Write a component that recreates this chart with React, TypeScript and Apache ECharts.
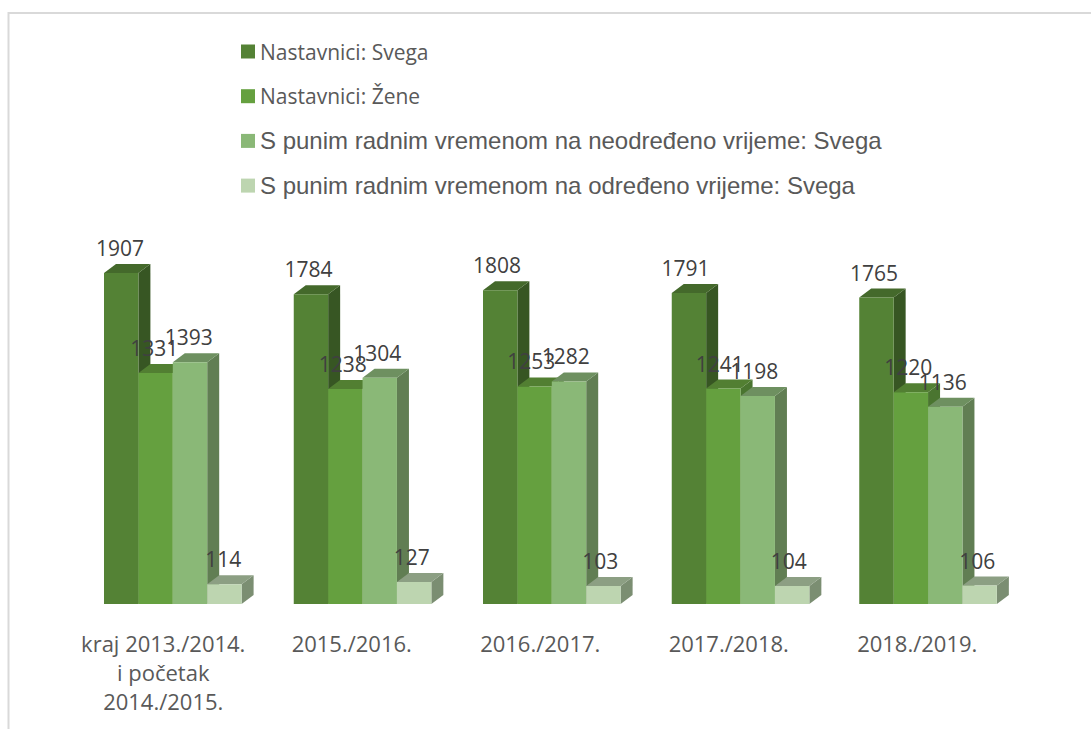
import React, { useEffect, useRef } from "react";
import * as echarts from "echarts";

const categories = ["kraj 2013./2014.\ni početak\n2014./2015.", "2015./2016.", "2016./2017.", "2017./2018.", "2018./2019."];
const seriesNames = [
  "Nastavnici: Svega",
  "Nastavnici: Žene",
  "S punim radnim vremenom na neodređeno vrijeme: Svega",
  "S punim radnim vremenom na određeno vrijeme: Svega",
];
const svega = [1907, 1784, 1808, 1791, 1765];
const zene = [1331, 1238, 1253, 1241, 1220];
const neodredeno = [1393, 1304, 1282, 1198, 1136];
const odredeno = [114, 127, 103, 104, 106];
const allValues = [svega, zene, neodredeno, odredeno];

const frontColors = ["#548235", "#65A03F", "#8AB877", "#BDD5B0"];
const topColors = ["#44692B", "#527F32", "#6E9060", "#8C9F83"];
const sideColors = ["#375623", "#4A7530", "#617E53", "#7B8E72"];
const legendFonts = ["Open Sans", "Open Sans", "Liberation Sans", "Liberation Sans"];
// small per-group horizontal shift caused by the 3D perspective of the original
const groupShift = [-0.25, 1, 1.75, 2, 1];

const BAR_W = 34.4;
const DX = 12;
const DY = 9;
const GROUP_START = -59;

function makeRender(s: number) {
  return (params: any, api: any) => {
    const idx = api.value(0);
    const val = api.value(1);
    const [cx, yTop] = api.coord([idx, val]);
    const [, yBase] = api.coord([idx, 0]);
    const xNominal = cx + GROUP_START + s * BAR_W;
    const x0 = xNominal + groupShift[idx];
    const x1 = x0 + BAR_W;
    return {
      type: "group",
      children: [
        {
          type: "polygon",
          shape: { points: [[x1, yTop], [x1 + DX, yTop - DY], [x1 + DX, yBase - DY], [x1, yBase]] },
          style: { fill: sideColors[s] },
        },
        {
          type: "polygon",
          shape: { points: [[x0, yTop], [x0 + DX, yTop - DY], [x1 + DX, yTop - DY], [x1, yTop]] },
          style: { fill: topColors[s] },
        },
        {
          type: "rect",
          shape: { x: x0, y: yTop, width: BAR_W, height: yBase - yTop },
          style: { fill: frontColors[s] },
        },
        {
          type: "text",
          z2: 100,
          style: {
            text: String(val),
            x: xNominal + BAR_W / 2 - 1.5,
            y: yTop - 25,
            align: "center",
            verticalAlign: "middle",
            fontFamily: "Open Sans",
            fontSize: 21,
            fill: "#404040",
          },
        },
      ],
    };
  };
}

export default function App() {
  const ref = useRef<HTMLDivElement>(null);
  useEffect(() => {
    document.body.style.margin = "0";
    const chart = echarts.init(ref.current!, undefined, { renderer: "svg" });
    chart.setOption({
      animation: false,
      backgroundColor: "#ffffff",
      graphic: [
        {
          type: "polyline",
          shape: { points: [[8.5, 729], [8.5, 13], [1091, 13]] },
          style: { stroke: "#D9D9D9", lineWidth: 2, fill: "none" },
          silent: true,
        },
      ],
      grid: { left: 69, width: 942.5, top: 256.8, height: 347.2 },
      legend: {
        left: 236,
        top: 34,
        orient: "vertical",
        itemWidth: 14,
        itemHeight: 14,
        itemGap: 19.7,
        selectedMode: false,
        data: seriesNames.map((name, i) => ({
          name,
          icon: "rect",
          itemStyle: { color: frontColors[i] },
          textStyle: {
            fontFamily: legendFonts[i],
            fontSize: i < 2 ? 21 : 24,
            color: "#595959",
            height: 25,
            lineHeight: 25,
          },
        })),
      },
      xAxis: {
        type: "category",
        data: categories,
        axisLine: { show: false },
        axisTick: { show: false },
        axisLabel: {
          fontFamily: "Open Sans",
          fontSize: 22,
          color: "#595959",
          lineHeight: 29,
          margin: 24,
          interval: 0,
        },
      },
      yAxis: { type: "value", min: 0, max: 2000, show: false },
      series: allValues.map((vals, s) => ({
        type: "custom",
        name: seriesNames[s],
        itemStyle: { color: frontColors[s] },
        renderItem: makeRender(s),
        encode: { x: 0, y: 1 },
        data: vals.map((v, i) => [i, v]),
        clip: false,
      })),
    });
    return () => chart.dispose();
  }, []);
  return <div ref={ref} style={{ width: 1091, height: 729 }} />;
}
